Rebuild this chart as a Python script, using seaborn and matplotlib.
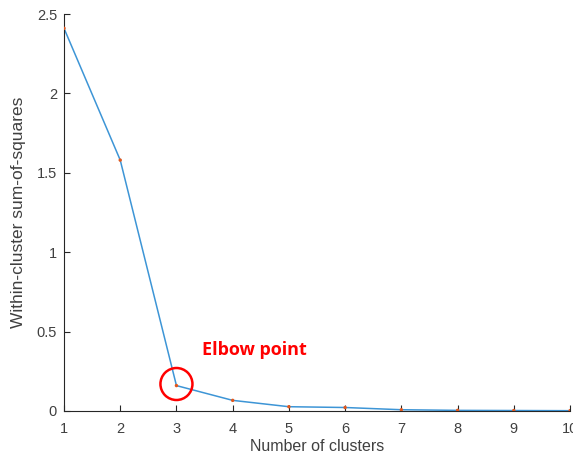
# Elbow plot: within-cluster sum-of-squares vs number of clusters
import matplotlib
matplotlib.use("Agg")
import matplotlib.pyplot as plt
from matplotlib.patches import Ellipse
import seaborn as sns
import pandas as pd

# Data
clusters = [1, 2, 3, 4, 5, 6, 7, 8, 9, 10]
wcss = [2.41, 1.58, 0.16, 0.067, 0.027, 0.022, 0.008, 0.004, 0.003, 0.002]
x_ticks = [1, 2, 3, 4, 5, 6, 7, 8, 9, 10]
y_ticks = [0, 0.5, 1, 1.5, 2, 2.5]
y_tick_labels = ["0", "0.5", "1", "1.5", "2", "2.5"]

df = pd.DataFrame({"k": clusters, "wcss": wcss})

sns.set_style("ticks")
plt.rcParams["font.family"] = ["Liberation Sans", "DejaVu Sans"]

fig = plt.figure(figsize=(5.73, 4.62), dpi=100)
ax = fig.add_axes([64 / 573, 51 / 462, 506 / 573, 397 / 462])

sns.lineplot(data=df, x="k", y="wcss", ax=ax, color="#3d95d6", linewidth=1.1)
sns.scatterplot(data=df, x="k", y="wcss", ax=ax, color="#e2571c", s=6,
                edgecolor="none", zorder=3)

ax.set_xlim(1, 10)
ax.set_ylim(0, 2.5)
ax.set_xticks(x_ticks)
ax.set_yticks(y_ticks)
ax.set_yticklabels(y_tick_labels)
ax.tick_params(direction="in", length=4, width=0.8, colors="#262626",
               labelcolor="#404040", labelsize=10.5)
ax.tick_params(axis="y", pad=5)
ax.tick_params(axis="x", pad=8)
for side in ["left", "bottom"]:
    ax.spines[side].set_color("#262626")
    ax.spines[side].set_linewidth(0.8)
sns.despine(ax=ax)

ax.set_xlabel("Number of clusters", fontsize=11.5, color="#404040", labelpad=2)
ax.set_ylabel("Within-cluster sum-of-squares", fontsize=12.5, color="#404040", labelpad=8)

# Highlight the elbow
px_w = 32 / 56.2
px_h = 32 / 158.8
ax.add_patch(Ellipse((clusters[2], wcss[2] + 0.01), px_w, px_h, fill=False,
                     edgecolor="red", linewidth=1.8, clip_on=False, zorder=4))
ax.text(3.46, 0.385, "Elbow point", color="red", fontsize=13, fontweight="bold",
        family=["Open Sans", "DejaVu Sans"], va="center", ha="left")

fig.savefig("out.png", dpi=100)
